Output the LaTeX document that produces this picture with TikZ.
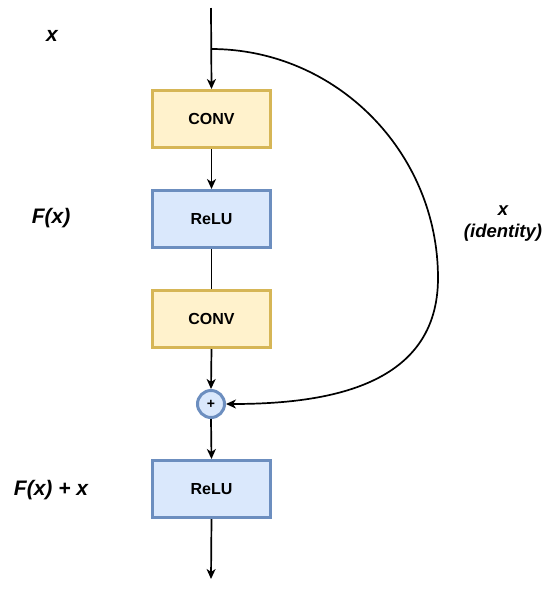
\documentclass[tikz,border=0pt]{standalone}
\usepackage{fontspec}
\setmainfont{Liberation Sans}
\usetikzlibrary{arrows.meta}
\definecolor{convfill}{HTML}{FFF2CC}
\definecolor{convdraw}{HTML}{D6B656}
\definecolor{relufill}{HTML}{DAE8FC}
\definecolor{reludraw}{HTML}{6C8EBF}
\begin{document}
\begin{tikzpicture}[x=1pt,y=-1pt,
  convbox/.style={draw=convdraw,fill=convfill,line width=3pt,minimum width=118pt,minimum height=57pt,inner sep=0pt,font=\fontsize{16}{18}\selectfont\bfseries},
  relubox/.style={draw=reludraw,fill=relufill,line width=3pt,minimum width=118pt,minimum height=57pt,inner sep=0pt,font=\fontsize{16}{18}\selectfont\bfseries},
  plusnode/.style={circle,draw=reludraw,fill=relufill,line width=3pt,minimum size=27pt,inner sep=0pt,font=\fontsize{14}{15}\selectfont\bfseries},
  lbl/.style={font=\fontsize{21}{22}\selectfont\bfseries\itshape,inner sep=0pt},
  lblr/.style={font=\fontsize{18.5}{22}\selectfont\bfseries\itshape,inner sep=0pt,align=center},
  conn/.style={line width=1.7pt,draw=black},
  arr/.style={conn,-{Stealth[length=10pt,width=9pt,inset=3pt]}}]
\useasboundingbox (0,0) rectangle (550,590);
\node[convbox] (conv1) at (211.5,119) {CONV};
\node[relubox] (relu1) at (211.5,219) {ReLU};
\node[convbox] (conv2) at (211.5,319) {CONV};
\node[plusnode] (plus) at (211,404) {+};
\node[relubox] (relu2) at (211.5,489) {ReLU};
\coordinate (top) at (211,8);
\coordinate (branch) at (211,49);
\coordinate (side) at (438,278);
\coordinate (bottom) at (211,579);
\node[lbl] (lx) at (52,36) {x};
\node[lbl] (lfx) at (51,218) {F(x)};
\node[lbl] (lfxx) at (51,490) {F(x) + x};
\node[lblr] (lid) at (503,224) {x\\(identity)};
\draw[arr] (top) -- (conv1.north);
\draw[arr] (conv1.south) -- (relu1.north);
\draw[conn] (relu1.south) -- (conv2.north);
\draw[arr] (conv2.south) -- (plus.north);
\draw[arr] (plus.south) -- (relu2.north);
\draw[arr] (relu2.south) -- (bottom);
\draw[arr] (branch) .. controls (336,49) and (438,152) .. (side)
  .. controls (438,385) and (330,404) .. (plus.east);
\end{tikzpicture}
\end{document}
